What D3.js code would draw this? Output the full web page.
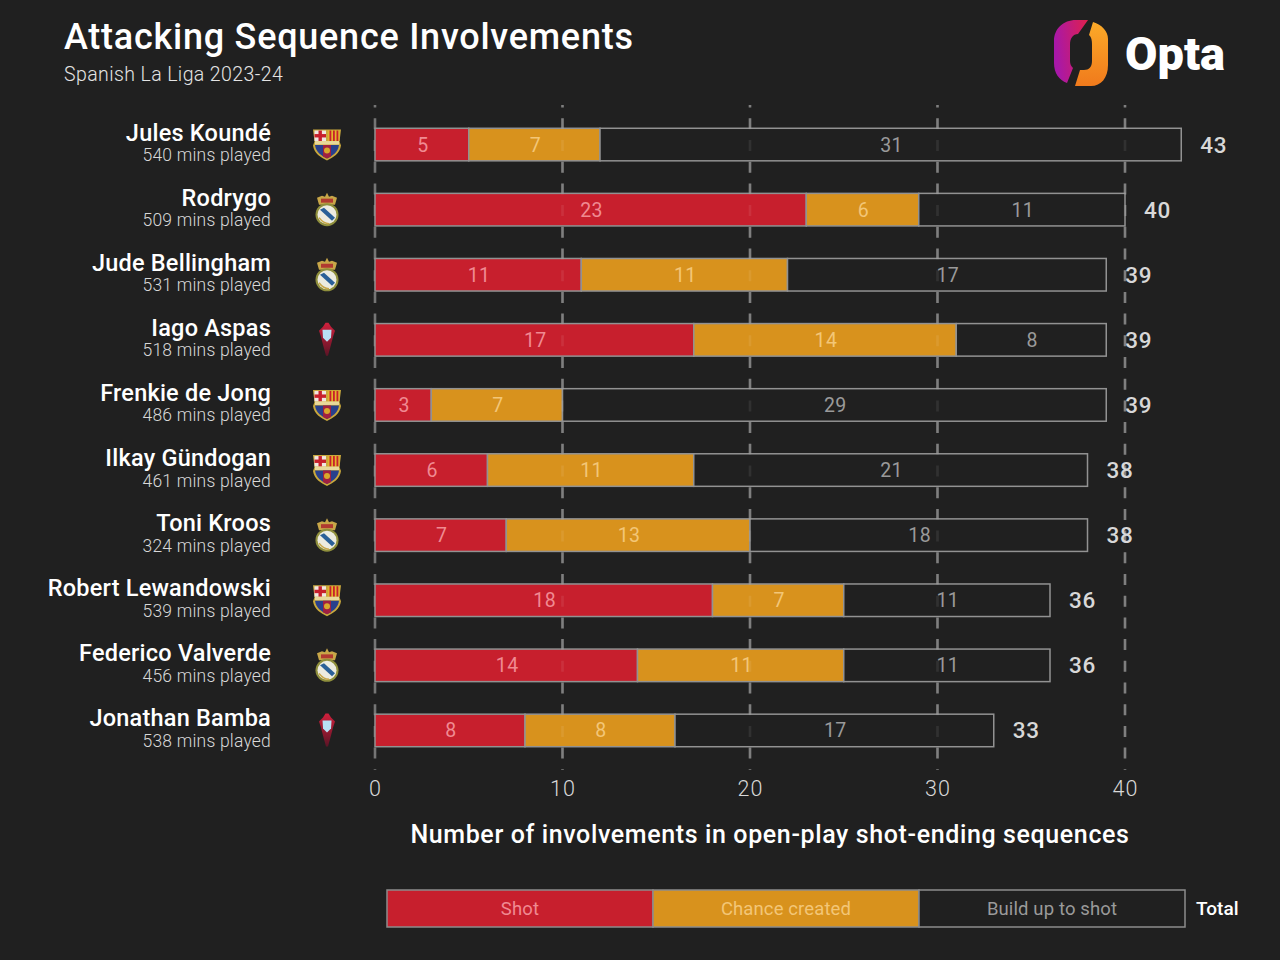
<!DOCTYPE html>
<html>
<head>
<meta charset="utf-8">
<script src="https://cdn.jsdelivr.net/npm/d3@7"></script>
<style>
  html, body { margin: 0; padding: 0; background: #202020; }
  text { font-family: Roboto, sans-serif; }
</style>
</head>
<body>
<div id="graph"></div>
<script>
var players = ["Jules Koundé", "Rodrygo", "Jude Bellingham", "Iago Aspas", "Frenkie de Jong",
               "Ilkay Gündogan", "Toni Kroos", "Robert Lewandowski", "Federico Valverde", "Jonathan Bamba"];
var minutes = [540, 509, 531, 518, 486, 461, 324, 539, 456, 538];
var clubs = ["fcb", "rma", "rma", "cel", "fcb", "fcb", "rma", "fcb", "rma", "cel"];
var shot = [5, 23, 11, 17, 3, 6, 7, 18, 14, 8];
var chance = [7, 6, 11, 14, 7, 11, 13, 7, 11, 8];
var buildUp = [31, 11, 17, 8, 29, 21, 18, 11, 11, 17];
var totals = [43, 40, 39, 39, 39, 38, 38, 36, 36, 33];
var xTicks = [0, 10, 20, 30, 40];
var legendLabels = ["Shot", "Chance created", "Build up to shot"];

var colors = ["#c71f2d", "#d8921d", "#202020"];
var labelColors = ["#f08a92", "#f3c677", "#9a9a9a"];

var svg = d3.select("#graph").append("svg")
    .attr("width", 1280)
    .attr("height", 960)
    .style("display", "block");

var x = d3.scaleLinear().domain([0, 40]).range([375, 1125]);
var y = d3.scaleBand().domain(players).range([112, 763]).paddingInner(0.5).paddingOuter(0.25);

// gradients for the logo and celta crest
var defs = svg.append("defs");
var g1 = defs.append("linearGradient").attr("id", "optaL").attr("x1", 0).attr("y1", 0.2).attr("x2", 1).attr("y2", 0);
g1.append("stop").attr("offset", 0).attr("stop-color", "#a818a8");
g1.append("stop").attr("offset", 1).attr("stop-color", "#e0204c");
var g2 = defs.append("linearGradient").attr("id", "optaR").attr("x1", 0.5).attr("y1", 0).attr("x2", 0.5).attr("y2", 1);
g2.append("stop").attr("offset", 0).attr("stop-color", "#fbaa28");
g2.append("stop").attr("offset", 1).attr("stop-color", "#f07a1c");
var g3 = defs.append("linearGradient").attr("id", "celta").attr("x1", 0).attr("y1", 0).attr("x2", 0).attr("y2", 1);
g3.append("stop").attr("offset", 0).attr("stop-color", "#d0203c");
g3.append("stop").attr("offset", 1).attr("stop-color", "#5c1426");

// header
svg.append("text").attr("x", 64).attr("y", 49).attr("fill", "#fff")
    .attr("font-size", 36).attr("font-weight", 500).attr("letter-spacing", 0.75)
    .text("Attacking Sequence Involvements");
svg.append("text").attr("x", 64).attr("y", 81).attr("fill", "#e4e4e4")
    .attr("font-size", 19.5).attr("font-weight", 300).attr("letter-spacing", 0.4)
    .text("Spanish La Liga 2023-24");

// logo
var logo = svg.append("g").attr("transform", "translate(1081,53)");
logo.append("path").attr("fill", "url(#optaL)")
    .attr("d", "M7,-33 L-5,-33 C-18,-33 -27,-24 -27,-12 L-27,10 C-27,20 -22,27 -14,30 L-8,15 C-10,13 -11,11 -11,8 L-11,-8 C-11,-15 -8,-19 -3,-19 Z");
logo.append("path").attr("fill", "url(#optaR)")
    .attr("d", "M12,-31 C21,-28 27,-22 27,-14 L27,12 C27,25 20,33 10,33 L-6,33 L-1,17 L3,17 C8,17 11,14 11,8 L11,-8 C11,-14 10,-16 8,-18 Z");
svg.append("text").attr("x", 1125).attr("y", 70).attr("fill", "#fff")
    .attr("font-size", 47).attr("font-weight", 900).text("Opta");

// dashed grid behind the bars
var gridDash = "11,10.7";
svg.append("g").selectAll("line").data(xTicks).join("line")
    .attr("x1", d => x(d)).attr("x2", d => x(d))
    .attr("y1", 105).attr("y2", 770)
    .attr("stroke", "#757575").attr("stroke-width", 2.6)
    .attr("stroke-dasharray", gridDash).attr("stroke-dashoffset", 8.4);

// stacked bars
var stack = d3.stack().keys([0, 1, 2]).value((d, k) => d[k]);
var rows = players.map((p, i) => [shot[i], chance[i], buildUp[i]]);
var series = stack(rows);

var layers = svg.append("g").selectAll("g").data(series).join("g");
layers.selectAll("rect").data((s, k) => s.map(d => ({d: d, k: k}))).join("rect")
    .attr("x", (e) => x(e.d[0]))
    .attr("width", e => x(e.d[1]) - x(e.d[0]))
    .attr("y", (e, i) => y(players[i]))
    .attr("height", y.bandwidth())
    .attr("fill", e => colors[e.k])
    .attr("stroke", "#929292")
    .attr("stroke-width", 1.5);

layers.selectAll("text").data((s, k) => s.map(d => ({d: d, k: k}))).join("text")
    .attr("x", e => x((e.d[0] + e.d[1]) / 2) + 1)
    .attr("y", (e, i) => y(players[i]) + y.bandwidth() / 2 + 7)
    .attr("text-anchor", "middle")
    .attr("font-size", 19.5)
    .attr("letter-spacing", 0.5)
    .attr("fill", e => labelColors[e.k])
    .text(e => e.d[1] - e.d[0]);

// faint grid over the bars
svg.append("g").selectAll("line").data(xTicks.slice(1)).join("line")
    .attr("x1", d => x(d)).attr("x2", d => x(d))
    .attr("y1", 105).attr("y2", 770)
    .attr("stroke", "#fff").attr("stroke-opacity", 0.08).attr("stroke-width", 2.6)
    .attr("stroke-dasharray", gridDash).attr("stroke-dashoffset", 8.4);

// totals
svg.append("g").selectAll("text").data(totals).join("text")
    .attr("x", (d) => x(d) + 32.5)
    .attr("y", (d, i) => y(players[i]) + y.bandwidth() / 2 + 8)
    .attr("text-anchor", "middle")
    .attr("font-size", 22.5).attr("font-weight", 500).attr("letter-spacing", 0.6).attr("fill", "#d8d8d8")
    .text(d => d);

// player names
var names = svg.append("g").selectAll("g").data(players).join("g")
    .attr("transform", d => "translate(271," + (y(d) + y.bandwidth() / 2) + ")");
names.append("text").attr("text-anchor", "end").attr("y", -4)
    .attr("font-size", 23.5).attr("font-weight", 500).attr("letter-spacing", 0.22).attr("fill", "#fff").text(d => d);
names.append("text").attr("text-anchor", "end").attr("y", 16.5)
    .attr("font-size", 17.5).attr("font-weight", 300).attr("letter-spacing", 0.2).attr("fill", "#d8d8d8")
    .text((d, i) => minutes[i] + " mins played");

// club crests
var crests = svg.append("g").selectAll("g").data(clubs).join("g")
    .attr("transform", (d, i) => "translate(327," + (y(players[i]) + y.bandwidth() / 2) + ")");

crests.filter(d => d === "fcb").each(function() {
    var c = d3.select(this);
    c.append("path").attr("fill", "#c9a83c").attr("d", "M-14,-15 L14,-15 L12.5,-3 L14,1 C13,9 6,13 0,16 C-6,13 -13,9 -14,1 L-12.5,-3 Z");
    c.append("rect").attr("x", -12.5).attr("y", -14).attr("width", 11.5).attr("height", 10.5).attr("fill", "#f0e6e0");
    c.append("rect").attr("x", -8.5).attr("y", -14).attr("width", 3.4).attr("height", 10.5).attr("fill", "#c8202c");
    c.append("rect").attr("x", -12.5).attr("y", -10.5).attr("width", 11.5).attr("height", 3.4).attr("fill", "#c8202c");
    c.append("rect").attr("x", 1).attr("y", -14).attr("width", 11.5).attr("height", 10.5).attr("fill", "#e2b42c");
    [2.5, 6, 9.5].forEach(function(p) {
        c.append("rect").attr("x", p).attr("y", -14).attr("width", 1.8).attr("height", 10.5).attr("fill", "#c8202c");
    });
    c.append("rect").attr("x", -12).attr("y", -3.5).attr("width", 24).attr("height", 3.5).attr("fill", "#e8d89a");
    c.append("path").attr("fill", "#28408c").attr("d", "M-12,0.5 L12,0.5 C11,8 5,11.5 0,14 C-5,11.5 -11,8 -12,0.5 Z");
    c.append("path").attr("fill", "#a02040").attr("d", "M-4,0.5 L4,0.5 L4,12 L0,14 L-4,12 Z");
    c.append("circle").attr("cx", 0).attr("cy", 6).attr("r", 3).attr("fill", "#d8a82c");
});

crests.filter(d => d === "rma").each(function() {
    var c = d3.select(this);
    c.append("path").attr("fill", "#c8a648").attr("d", "M-8,-5 L-10,-12 L-5,-14 L-2,-13 L0,-17 L2,-13 L5,-14 L10,-12 L8,-5 Z");
    c.append("path").attr("fill", "#b03a30").attr("d", "M-6,-11 L6,-11 L6,-7 L-6,-7 Z");
    c.append("circle").attr("cx", 0).attr("cy", 5).attr("r", 11.5).attr("fill", "#8f8f3c");
    c.append("circle").attr("cx", 0).attr("cy", 5).attr("r", 9.5).attr("fill", "#ecebe0");
    c.append("path").attr("fill", "#2a6098").attr("d", "M-7,0 L-3,-2 L8,8 L5,11 Z");
    c.append("path").attr("fill", "none").attr("stroke", "#c8a648").attr("stroke-width", 1.5).attr("d", "M-8,8 C-5,12 -2,14 2,14");
});

crests.filter(d => d === "cel").each(function() {
    var c = d3.select(this);
    c.append("path").attr("fill", "url(#celta)").attr("d", "M-1.5,-17 L1.5,-17 L4,-13 L8,-9 L6,-3 L4,5 L1,16 L-1,16 L-4,5 L-6,-3 L-8,-9 L-4,-13 Z");
    c.append("path").attr("fill", "#b8e0f4").attr("d", "M-4.5,-10 L4.5,-10 L4,-2 L0,2 L-4,-2 Z");
});

// x axis labels and title
svg.append("g").selectAll("text").data(xTicks).join("text")
    .attr("x", d => x(d) + 0.5).attr("y", 796)
    .attr("text-anchor", "middle").attr("font-size", 21.5).attr("font-weight", 300)
    .attr("letter-spacing", 1).attr("fill", "#d8d8d8").text(d => d);
svg.append("text").attr("x", 770).attr("y", 843).attr("text-anchor", "middle")
    .attr("font-size", 25).attr("font-weight", 500).attr("letter-spacing", 0.62).attr("fill", "#fff")
    .text("Number of involvements in open-play shot-ending sequences");

// legend
var lx = d3.scaleBand().domain(legendLabels).range([387, 1185]);
var leg = svg.append("g").selectAll("g").data(legendLabels).join("g");
leg.append("rect").attr("x", d => lx(d)).attr("y", 890).attr("width", lx.bandwidth()).attr("height", 37)
    .attr("fill", (d, i) => colors[i]).attr("stroke", "#8c8c8c").attr("stroke-width", 1.5);
leg.append("text").attr("x", d => lx(d) + lx.bandwidth() / 2).attr("y", 915).attr("text-anchor", "middle")
    .attr("font-size", 18.5).attr("letter-spacing", 0.12).attr("fill", (d, i) => labelColors[i]).text(d => d);
svg.append("text").attr("x", 1196).attr("y", 915).attr("font-size", 19).attr("font-weight", 500)
    .attr("fill", "#fff").text("Total");
</script>
</body>
</html>
